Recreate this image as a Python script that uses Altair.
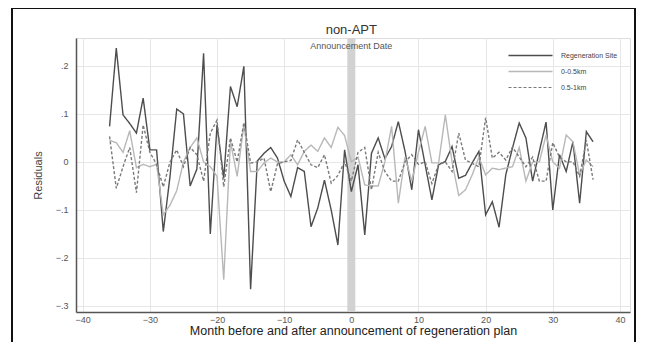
import altair as alt
import pandas as pd

months = list(range(-36, 37))

regen = [0.074, 0.237, 0.098, 0.08, 0.06, 0.133, 0.025, 0.025, -0.145, -0.03,
         0.11, 0.10, -0.05, -0.015, 0.226, -0.15, 0.077, -0.034, 0.157, 0.115,
         0.199, -0.265, 0.002, 0.018, 0.03, 0.008, -0.04, -0.072, -0.012, -0.02,
         -0.135, -0.096, -0.038, -0.1, -0.173, 0.025, -0.062, -0.006, -0.152, 0.018,
         0.05, 0.007, 0.032, 0.084, 0.022, -0.058, 0.067, -0.006, -0.079, -0.006,
         0.001, 0.032, -0.034, -0.028, -0.002, 0.022, -0.11, -0.083, -0.136, -0.027,
         0.029, 0.081, 0.05, -0.04, 0.022, 0.083, -0.1, 0.015, -0.02, 0.042,
         -0.086, 0.063, 0.042]

near = [0.045, 0.04, 0.02, 0.065, -0.012, -0.005, -0.01, -0.005, -0.11, -0.09,
        -0.06, 0.0, 0.03, 0.05, 0.0, -0.01, -0.03, -0.245, 0.042, -0.03,
        0.077, -0.02, -0.02, -0.002, 0.008, 0.0, 0.0, 0.015, -0.006, 0.022,
        0.035, 0.022, 0.05, 0.03, 0.072, 0.055, 0.0, 0.01, -0.048, -0.05,
        -0.05, 0.0, 0.074, -0.086, 0.01, -0.04, 0.02, 0.074, -0.002, -0.002,
        0.098, 0.0, -0.07, -0.058, -0.027, 0.01, -0.027, -0.013, -0.016, -0.013,
        -0.01, 0.03, -0.04, 0.0, 0.0, 0.056, 0.0, -0.013, 0.056, 0.042,
        -0.027, 0.004, -0.01]

mid = [0.053, -0.055, -0.01, 0.03, -0.064, 0.077, 0.02, -0.005, -0.052, 0.0,
       0.025, -0.01, 0.03, 0.015, -0.04, 0.06, 0.087, -0.052, 0.05, 0.0,
       0.082, -0.002, 0.0, 0.008, -0.062, -0.004, 0.0, 0.003, 0.046, 0.02,
       -0.006, -0.012, 0.015, -0.044, -0.028, 0.0, -0.04, 0.02, 0.03, -0.058,
       0.02, -0.02, -0.04, -0.04, 0.0, 0.015, -0.005, 0.0, -0.045, -0.005,
       0.0, -0.02, 0.06, 0.004, -0.003, -0.01, 0.092, 0.008, 0.02, 0.004,
       0.031, 0.01, -0.01, 0.01, -0.04, -0.04, 0.04, 0.01, 0.0, 0.0,
       -0.03, 0.045, -0.037]

series_names = ["Regeneration Site", "0-0.5km", "0.5-1km"]
series_colors = ["#4d4d4d", "#b8b8b8", "#7a7a7a"]
series_dash = [[1, 0], [1, 0], [3, 2]]
series_width = [1.5, 1.1, 1.6]

announcement_month = [0]
x_ticks = [-40, -30, -20, -10, 0, 10, 20, 30, 40]
y_ticks = [-0.3, -0.2, -0.1, 0.0, 0.1, 0.2]

rows = []
for name, vals in zip(series_names, [regen, near, mid]):
    for m, v in zip(months, vals):
        rows.append({"month": m, "resid": v, "series": name})
df = pd.DataFrame(rows)

FONT = "Liberation Sans"
xscale = alt.Scale(domain=[-41, 41.5], nice=False, zero=False)
yscale = alt.Scale(domain=[-0.3125, 0.258], nice=False, zero=False)

band = alt.Chart(pd.DataFrame({"month": announcement_month})).mark_rule(
    color="#d2d2d2", strokeWidth=8
).encode(
    x=alt.X("month:Q", scale=xscale,
            axis=alt.Axis(values=x_ticks, title="Month before and after announcement of regeneration plan",
                          labelFontSize=9, labelColor="#555", labelPadding=3, tickSize=0,
                          domainColor="#555", domainWidth=1.5, gridColor="#e6e6e6",
                          titleFontSize=12.5, titleColor="#222", titleFontWeight="normal",
                          titlePadding=0, labelFont=FONT, titleFont=FONT))
)

texts = alt.Chart(pd.DataFrame({"month": announcement_month * 2,
                                "label": ["Announcement Date", "non-APT"],
                                "kind": ["sub", "main"]}))

band_label = texts.transform_filter("datum.kind == 'sub'").mark_text(
    fontSize=9, color="#555", font=FONT, baseline="middle"
).encode(
    x=alt.X("month:Q", scale=xscale),
    y=alt.value(8),
    text="label:N",
)

main_title = texts.transform_filter("datum.kind == 'main'").mark_text(
    fontSize=13, color="#333", font=FONT, baseline="middle"
).encode(
    x=alt.X("month:Q", scale=xscale),
    y=alt.value(-8),
    text="label:N",
)

legend_cfg = dict(title=None, orient="none", legendX=448, legendY=11, padding=0,
                  symbolType="M-4,0L4,0", symbolSize=121, symbolStrokeWidth=1.2,
                  labelFontSize=7, labelColor="#444", labelOffset=24,
                  rowPadding=6, labelFont=FONT)

lines = alt.Chart(df).mark_line(strokeWidth=1.4).encode(
    x=alt.X("month:Q", scale=xscale),
    y=alt.Y("resid:Q", scale=yscale,
            axis=alt.Axis(values=y_ticks, title="Residuals",
                          labelExpr="datum.value == 0 ? '0' : replace(format(datum.value, '.1f'), '0.', '.')",
                          labelFontSize=9, labelColor="#555", labelPadding=8, tickSize=0,
                          domainColor="#555", domainWidth=1.5, gridColor="#e6e6e6",
                          titleFontSize=11, titleColor="#444", titleFontWeight="normal",
                          titlePadding=12, labelFont=FONT, titleFont=FONT)),
    color=alt.Color("series:N", scale=alt.Scale(domain=series_names, range=series_colors),
                    legend=alt.Legend(**legend_cfg)),
    strokeDash=alt.StrokeDash("series:N", scale=alt.Scale(domain=series_names, range=series_dash),
                              legend=alt.Legend(**legend_cfg)),
    strokeWidth=alt.StrokeWidth("series:N", scale=alt.Scale(domain=series_names, range=series_width),
                                legend=None),
    order="month:Q",
)

frame = alt.Chart(pd.DataFrame({"month": announcement_month})).mark_rect(
    filled=False, stroke="#111", strokeWidth=2, clip=False
).encode(
    x=alt.value(-64), x2=alt.value(559), y=alt.value(-30), y2=alt.value(380)
)

chart = alt.layer(band, band_label, main_title, lines, frame).properties(
    width=554, height=274,
    autosize=alt.AutoSizeParams(type="none"),
    padding={"left": 68, "top": 30, "right": 7, "bottom": 30},
).configure_view(stroke=None).configure(background="white")

chart.save("out.html", embed_options={"renderer": "svg", "actions": False})
